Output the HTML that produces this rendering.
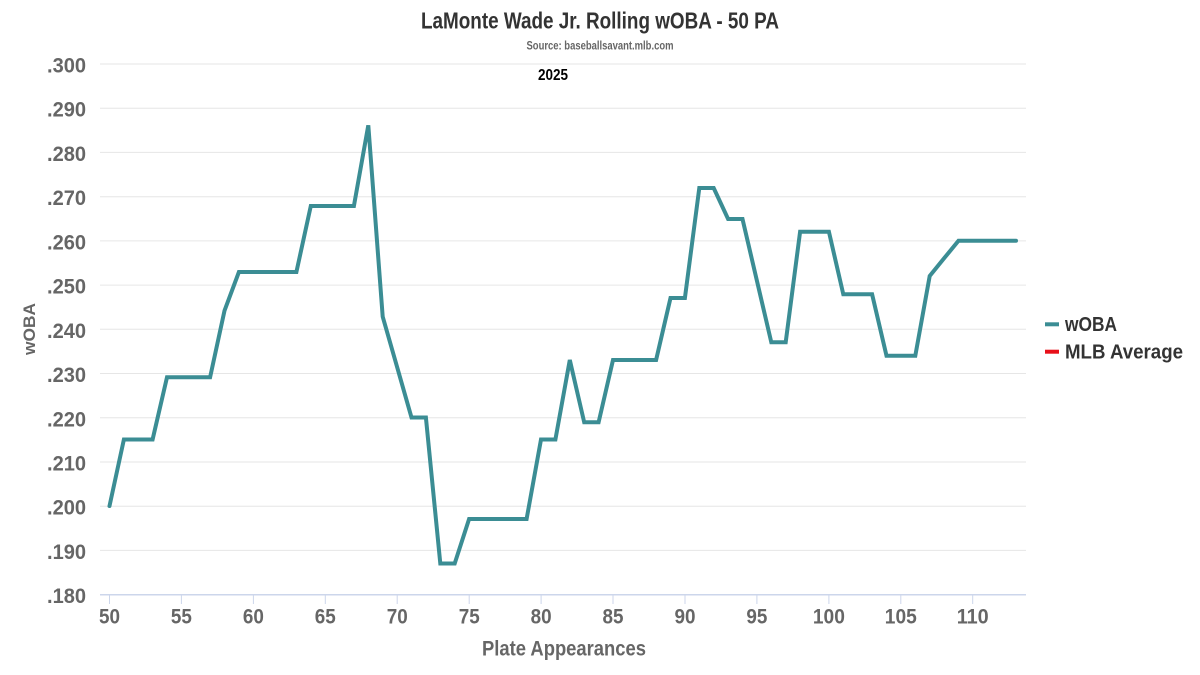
<!DOCTYPE html>
<html>
<head>
<meta charset="utf-8">
<style>
  html,body{margin:0;padding:0;background:#fff;}
  svg{display:block;}
  text{font-family:"Liberation Sans Narrow","Liberation Sans",sans-serif;font-weight:bold;}
</style>
</head>
<body>
<svg width="1200" height="675" viewBox="0 0 1200 675" xmlns="http://www.w3.org/2000/svg">
  <rect width="1200" height="675" fill="#fff"/>
  <!-- gridlines -->
  <g stroke="#e6e6e6" stroke-width="1">
    <line x1="100" x2="1026" y1="64" y2="64"/>
    <line x1="100" x2="1026" y1="108.2" y2="108.2"/>
    <line x1="100" x2="1026" y1="152.4" y2="152.4"/>
    <line x1="100" x2="1026" y1="196.7" y2="196.7"/>
    <line x1="100" x2="1026" y1="240.9" y2="240.9"/>
    <line x1="100" x2="1026" y1="285.1" y2="285.1"/>
    <line x1="100" x2="1026" y1="329.3" y2="329.3"/>
    <line x1="100" x2="1026" y1="373.5" y2="373.5"/>
    <line x1="100" x2="1026" y1="417.8" y2="417.8"/>
    <line x1="100" x2="1026" y1="462" y2="462"/>
    <line x1="100" x2="1026" y1="506.2" y2="506.2"/>
    <line x1="100" x2="1026" y1="550.4" y2="550.4"/>
  </g>
  <!-- x axis -->
  <line x1="100" x2="1026" y1="594.7" y2="594.7" stroke="#ccd6eb" stroke-width="1.5"/>
  <g stroke="#ccd6eb" stroke-width="1">
    <line x1="109.5" x2="109.5" y1="594.7" y2="604"/>
    <line x1="181.4" x2="181.4" y1="594.7" y2="604"/>
    <line x1="253.4" x2="253.4" y1="594.7" y2="604"/>
    <line x1="325.3" x2="325.3" y1="594.7" y2="604"/>
    <line x1="397.2" x2="397.2" y1="594.7" y2="604"/>
    <line x1="469.2" x2="469.2" y1="594.7" y2="604"/>
    <line x1="541.1" x2="541.1" y1="594.7" y2="604"/>
    <line x1="613" x2="613" y1="594.7" y2="604"/>
    <line x1="685" x2="685" y1="594.7" y2="604"/>
    <line x1="756.9" x2="756.9" y1="594.7" y2="604"/>
    <line x1="828.9" x2="828.9" y1="594.7" y2="604"/>
    <line x1="900.8" x2="900.8" y1="594.7" y2="604"/>
    <line x1="972.7" x2="972.7" y1="594.7" y2="604"/>
  </g>

  <!-- titles -->
  <text x="600" y="28.5" font-size="23" fill="#333" text-anchor="middle" textLength="358" lengthAdjust="spacingAndGlyphs">LaMonte Wade Jr. Rolling wOBA - 50 PA</text>
  <text x="600" y="49.5" font-size="12" fill="#666" text-anchor="middle" textLength="147" lengthAdjust="spacingAndGlyphs">Source: baseballsavant.mlb.com</text>
  <text x="553" y="80" font-size="16" fill="#000" text-anchor="middle" textLength="30" lengthAdjust="spacingAndGlyphs">2025</text>

  <!-- y labels -->
  <g font-size="21" fill="#666" text-anchor="end">
    <text x="86" y="72.5" textLength="39" lengthAdjust="spacingAndGlyphs">.300</text>
    <text x="86" y="116.7" textLength="39" lengthAdjust="spacingAndGlyphs">.290</text>
    <text x="86" y="160.9" textLength="39" lengthAdjust="spacingAndGlyphs">.280</text>
    <text x="86" y="205.2" textLength="39" lengthAdjust="spacingAndGlyphs">.270</text>
    <text x="86" y="249.4" textLength="39" lengthAdjust="spacingAndGlyphs">.260</text>
    <text x="86" y="293.6" textLength="39" lengthAdjust="spacingAndGlyphs">.250</text>
    <text x="86" y="337.8" textLength="39" lengthAdjust="spacingAndGlyphs">.240</text>
    <text x="86" y="382" textLength="39" lengthAdjust="spacingAndGlyphs">.230</text>
    <text x="86" y="426.3" textLength="39" lengthAdjust="spacingAndGlyphs">.220</text>
    <text x="86" y="470.5" textLength="39" lengthAdjust="spacingAndGlyphs">.210</text>
    <text x="86" y="514.7" textLength="39" lengthAdjust="spacingAndGlyphs">.200</text>
    <text x="86" y="558.9" textLength="39" lengthAdjust="spacingAndGlyphs">.190</text>
    <text x="86" y="603.2" textLength="39" lengthAdjust="spacingAndGlyphs">.180</text>
  </g>

  <!-- x labels -->
  <g font-size="21" fill="#666" text-anchor="middle">
    <text x="109.5" y="623.3" textLength="21" lengthAdjust="spacingAndGlyphs">50</text>
    <text x="181.4" y="623.3" textLength="21" lengthAdjust="spacingAndGlyphs">55</text>
    <text x="253.4" y="623.3" textLength="21" lengthAdjust="spacingAndGlyphs">60</text>
    <text x="325.3" y="623.3" textLength="21" lengthAdjust="spacingAndGlyphs">65</text>
    <text x="397.2" y="623.3" textLength="21" lengthAdjust="spacingAndGlyphs">70</text>
    <text x="469.2" y="623.3" textLength="21" lengthAdjust="spacingAndGlyphs">75</text>
    <text x="541.1" y="623.3" textLength="21" lengthAdjust="spacingAndGlyphs">80</text>
    <text x="613" y="623.3" textLength="21" lengthAdjust="spacingAndGlyphs">85</text>
    <text x="685" y="623.3" textLength="21" lengthAdjust="spacingAndGlyphs">90</text>
    <text x="756.9" y="623.3" textLength="21" lengthAdjust="spacingAndGlyphs">95</text>
    <text x="828.9" y="623.3" textLength="32" lengthAdjust="spacingAndGlyphs">100</text>
    <text x="900.8" y="623.3" textLength="32" lengthAdjust="spacingAndGlyphs">105</text>
    <text x="972.7" y="623.3" textLength="32" lengthAdjust="spacingAndGlyphs">110</text>
  </g>

  <!-- axis titles -->
  <text x="564" y="655.5" font-size="21" fill="#666" text-anchor="middle" textLength="164" lengthAdjust="spacingAndGlyphs">Plate Appearances</text>
  <text transform="translate(35,329) rotate(-90)" x="0" y="0" font-size="17" fill="#666" text-anchor="middle" textLength="52" lengthAdjust="spacingAndGlyphs">wOBA</text>

  <!-- series -->
  <polyline fill="none" stroke="#3b8d94" stroke-width="4" stroke-linejoin="miter" stroke-linecap="round"
    points="109.5,506 123.9,439.5 152.6,439.5 167,377.3 210.1,377.3 224.5,310.7 238.9,272 296.4,272 310.8,206 353.9,206 368.3,125.3 382.7,316.7 397.1,367 411.5,417.5 425.9,417.5 440.3,563.5 454.7,563.5 469.1,519 526.6,519 541,439.5 555.4,439.5 569.8,360 584.2,422.3 598.6,422.3 613,360 656.1,360 670.5,298 684.9,298 699.3,188 713.7,188 728.1,219 742.5,219 756.9,280.7 771.3,342.3 785.7,342.3 800.1,231.7 828.9,231.7 843.3,294.3 872.1,294.3 886.5,355.7 915.3,355.7 929.7,276 944.1,258.3 958.5,240.7 1016,240.7"/>

  <!-- legend -->
  <line x1="1045" x2="1059" y1="324.3" y2="324.3" stroke="#3b8d94" stroke-width="4"/>
  <text x="1065" y="331" font-size="20" fill="#333" textLength="52" lengthAdjust="spacingAndGlyphs">wOBA</text>
  <line x1="1045" x2="1059" y1="351.7" y2="351.7" stroke="#e8101a" stroke-width="4"/>
  <text x="1065" y="358.5" font-size="20" fill="#333" textLength="118" lengthAdjust="spacingAndGlyphs">MLB Average</text>
</svg>
</body>
</html>
